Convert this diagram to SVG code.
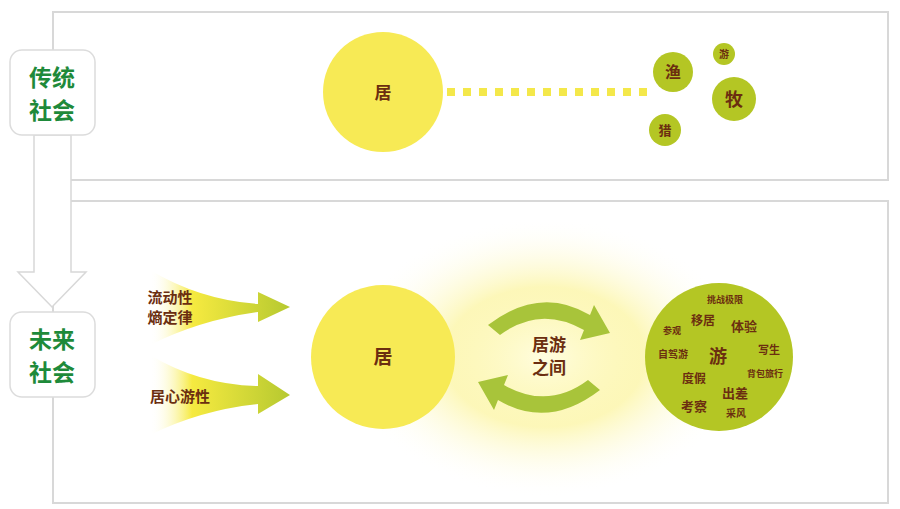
<svg xmlns="http://www.w3.org/2000/svg" width="900" height="509" viewBox="0 0 900 509">
<defs>
<style>
.panel{fill:#fff;stroke:#d8d8d8;stroke-width:2}
.lbl{fill:#fff;stroke:#dcdcdc;stroke-width:1.5}
.g{font-family:"Noto Sans CJK SC",sans-serif;font-weight:bold;fill:#1e8a3a;font-size:23px;text-anchor:middle}
.b{font-family:"Noto Sans CJK SC",sans-serif;font-weight:bold;fill:#6b2e10;text-anchor:middle}
.yc{fill:#f7ea55}
.gc{fill:#b4c624}
</style>
<linearGradient id="wedge" x1="0" x2="1" y1="0" y2="0">
<stop offset="0" stop-color="#fff" stop-opacity="0"/>
<stop offset="0.3" stop-color="#f6ea40"/>
<stop offset="1" stop-color="#b6c930"/>
</linearGradient>
<radialGradient id="glow" cx="0.5" cy="0.5" r="0.5">
<stop offset="0" stop-color="#fffde0"/>
<stop offset="0.5" stop-color="#fbf28a" stop-opacity="0.6"/>
<stop offset="1" stop-color="#fff" stop-opacity="0"/>
</radialGradient>
</defs>
<rect width="900" height="509" fill="#fff"/>
<rect class="panel" x="53" y="12" width="835" height="168"/>
<rect class="panel" x="53" y="201" width="835" height="302"/>
<g id="connectors">
<path d="M34 135 V272 H18 L52 307 L86 272 H71 V135 Z" fill="#fff" stroke="#d8d8d8" stroke-width="1.5"/>
<line x1="447" y1="92" x2="652" y2="92" stroke="#f4e84a" stroke-width="8" stroke-dasharray="8,8"/>
<path d="M150 270 Q200 300 258 304 V292 L290 307 L258 322 V312 Q200 320 150 345 Z" fill="url(#wedge)"/>
<path d="M150 355 Q200 385 258 386 V374 L290 395 L258 414 V404 Q200 410 150 435 Z" fill="url(#wedge)"/>
</g>
<g id="trad"><rect class="lbl" x="10" y="50" width="85" height="85" rx="12"/><text class="g" x="52" y="86">传统</text><text class="g" x="52" y="119">社会</text></g>
<g id="future"><rect class="lbl" x="10" y="312" width="85" height="85" rx="12"/><text class="g" x="52" y="348">未来</text><text class="g" x="52" y="381">社会</text></g>
<g id="ju1"><circle class="yc" cx="383" cy="92" r="60"/><text class="b" x="383" y="99" font-size="17">居</text></g>
<g id="yu"><circle class="gc" cx="673" cy="72" r="20"/><text class="b" x="673" y="78" font-size="16">渔</text></g>
<g id="you1"><circle class="gc" cx="724" cy="54" r="11"/><text class="b" x="724" y="58" font-size="10">游</text></g>
<g id="mu"><circle class="gc" cx="734" cy="99" r="22"/><text class="b" x="734" y="106" font-size="18">牧</text></g>
<g id="lie"><circle class="gc" cx="665" cy="130" r="16"/><text class="b" x="665" y="135" font-size="13">猎</text></g>
<g id="glowg"><ellipse cx="545" cy="357" rx="200" ry="140" fill="url(#glow)"/></g>
<g id="w1"><text class="b" x="170" y="303" font-size="15">流动性</text><text class="b" x="170" y="323" font-size="15">熵定律</text></g>
<g id="w2"><text class="b" x="180" y="402" font-size="15">居心游性</text></g>
<g id="ju2"><circle class="yc" cx="383" cy="357" r="72"/><text class="b" x="383" y="364" font-size="19">居</text></g>
<g id="cycle">
<path d="M488 325 Q540 285 590 315 L594 305 L610 333 L580 340 L584 330 Q540 305 500 335 Z" fill="#a8c43a"/>
<path d="M600 390 Q548 430 498 400 L494 410 L478 382 L508 375 L504 385 Q548 410 588 380 Z" fill="#a8c43a"/>
<text class="b" x="549" y="351" font-size="17">居游</text><text class="b" x="549" y="374" font-size="17">之间</text>
</g>
<g id="you2"><circle class="gc" cx="719" cy="357" r="74"/>
<text class="b" x="725" y="303" font-size="9">挑战极限</text>
<text class="b" x="703" y="325" font-size="12">移居</text>
<text class="b" x="744" y="331" font-size="13">体验</text>
<text class="b" x="672" y="334" font-size="9">参观</text>
<text class="b" x="673" y="358" font-size="10">自驾游</text>
<text class="b" x="718" y="363" font-size="18">游</text>
<text class="b" x="769" y="354" font-size="11">写生</text>
<text class="b" x="765" y="377" font-size="9">背包旅行</text>
<text class="b" x="694" y="383" font-size="12">度假</text>
<text class="b" x="735" y="398" font-size="13">出差</text>
<text class="b" x="694" y="411" font-size="13">考察</text>
<text class="b" x="736" y="417" font-size="10">采风</text>
</g>
</svg>
